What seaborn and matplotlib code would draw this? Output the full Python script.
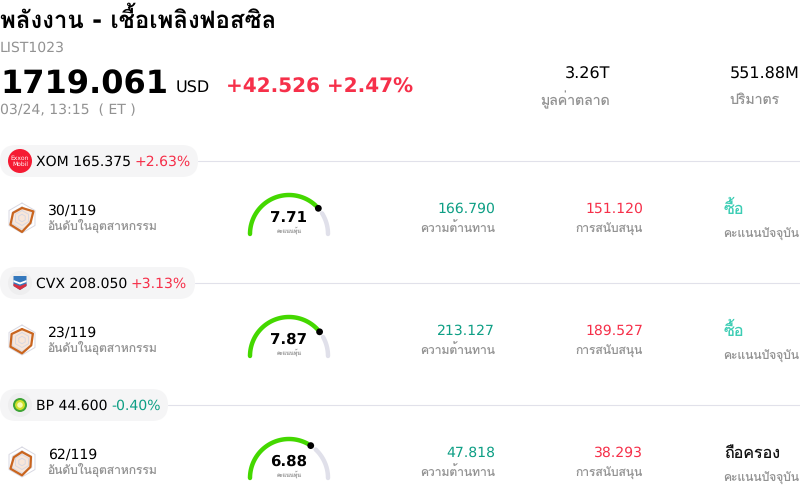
import numpy as np
import matplotlib
matplotlib.use("Agg")
import matplotlib.pyplot as plt
from matplotlib.patches import Circle, FancyBboxPatch, Polygon
import seaborn as sns

# Data
title = "พลังงาน - เชื้อเพลิงฟอสซิล"
list_code = "LIST1023"
index_price = "1719.061"
index_change = "+42.526 +2.47%"
index_time = "03/24, 13:15  ( ET )"
market_cap = "3.26T"
volume = "551.88M"

tickers = ["XOM", "CVX", "BP"]
prices = ["165.375", "208.050", "44.600"]
changes = ["+2.63%", "+3.13%", "-0.40%"]
ranks = ["30/119", "23/119", "62/119"]
scores = [7.71, 7.87, 6.88]
resistance = ["166.790", "213.127", "47.818"]
support = ["151.120", "189.527", "38.293"]
ratings = ["ซื้อ", "ซื้อ", "ถือครอง"]

# radar values, clockwise from the top
radar_xom = [0.67, 0.88, 0.65, 0.93, 0.89, 0.69]
radar_cvx = [0.73, 0.84, 0.71, 0.89, 0.89, 0.80]
radar_bp = [0.67, 0.69, 0.65, 0.89, 0.89, 0.63]
radars = [radar_xom, radar_cvx, radar_bp]

RED = "#f6304a"
GREEN = "#0e9f85"
GREY = "#929292"
TEAL = "#3ccdb4"
LINE = "#e1e1ea"

sns.set_theme(style="white")
plt.rcParams["font.family"] = ["DejaVu Sans", "Loma"]
plt.rcParams["text.hinting"] = "no_hinting"
plt.rcParams["text.hinting_factor"] = 1


def px(size):
    return size * 0.72


fig = plt.figure(figsize=(8, 4.99), dpi=100)
ax = fig.add_axes([0, 0, 1, 1])
ax.set_xlim(0, 800)
ax.set_ylim(499, 0)
ax.axis("off")


def txt(x, y, s, size, color="black", **kw):
    return ax.text(x, y, s, fontsize=px(size), color=color, va="center", **kw)


def draw_radar(cx, cy, values):
    ang = np.deg2rad(np.arange(7) * 60)
    v = np.array(values + values[:1])
    xs = cx + 15 * v * np.sin(ang)
    ys = cy - 15 * v * np.cos(ang)
    ax.fill(xs, ys, color="#e8a878", alpha=0.28, lw=0)
    for r in [1.0, 0.75, 0.5, 0.25]:
        sns.lineplot(x=cx + 15 * r * np.sin(ang), y=cy - 15 * r * np.cos(ang), sort=False,
                     estimator=None, color="#d8d8e2", lw=0.7, ax=ax)
    sns.lineplot(x=xs, y=ys, sort=False, estimator=None, color="#c9651f", lw=1.6, ax=ax)


def draw_gauge(cx, cy, score):
    end = np.pi * (1 - score / 10)
    t1 = np.linspace(np.pi, end + 0.09, 60)
    t2 = np.linspace(end - 0.16, 0, 30)
    sns.lineplot(x=cx + 39 * np.cos(t2), y=cy - 39 * np.sin(t2), sort=False, estimator=None,
                 color="#e0e0ea", lw=3.2, solid_capstyle="round", ax=ax)
    sns.lineplot(x=cx + 39 * np.cos(t1), y=cy - 39 * np.sin(t1), sort=False, estimator=None,
                 color="#44d800", lw=3.2, solid_capstyle="round", ax=ax)
    ax.add_patch(Circle((cx + 39 * np.cos(end), cy - 39 * np.sin(end)), 3.4, color="black", lw=0, zorder=5))
    txt(cx, cy - 16, f"{score:.2f}", 14.6, weight="bold", ha="center")
    txt(cx, cy - 4, "คะแนนหุ้น", 5.5, "#a8a8a8", ha="center")


def draw_logo(i, cy):
    if i == 0:
        ax.add_patch(Circle((20, cy), 12, color="#f51b33", lw=0, zorder=3))
        ax.text(20, cy - 3, "Exxon", fontsize=4.2, color="white", ha="center", va="center", zorder=4)
        ax.text(20, cy + 3.5, "Mobil", fontsize=4.2, color="white", ha="center", va="center", zorder=4)
    elif i == 1:
        ax.add_patch(Circle((20, cy), 12, color="#eeeeef", lw=0, zorder=3))
        ax.add_patch(Polygon([(13.5, cy - 7), (26.5, cy - 7), (26.5, cy + 3), (20, cy + 7), (13.5, cy + 3)],
                             color="#3478bd", lw=0, zorder=4))
        ax.add_patch(Polygon([(13.5, cy - 3), (20, cy - 0.5), (26.5, cy - 3), (26.5, cy - 1), (20, cy + 1.5), (13.5, cy - 1)],
                             color="white", lw=0, zorder=5))
        ax.add_patch(Polygon([(13.5, cy + 0.5), (20, cy + 3), (26.5, cy + 0.5), (26.5, cy + 3), (20, cy + 7), (13.5, cy + 3)],
                             color="#d8303f", lw=0, zorder=5))
    else:
        ax.add_patch(Circle((20, cy), 12, color="#eeeeef", lw=0, zorder=3))
        ax.add_patch(Circle((20, cy), 7, color="#3fa535", lw=0, zorder=4))
        ax.add_patch(Circle((20, cy), 5, color="#cfe02a", lw=0, zorder=5))
        ax.add_patch(Circle((20, cy), 2.8, color="#fbfbb0", lw=0, zorder=6))


# Header
txt(0, 20, title, 24, weight="bold")
txt(0, 48, list_code, 14, GREY)
txt(0, 84.5, index_price, 32, weight="bold")
txt(176, 88, "USD", 16)
txt(226, 87, index_change, 20, RED, weight="bold")
txt(0, 110, index_time, 14, GREY)
txt(610, 74, market_cap, 16, ha="right")
txt(610, 100, "มูลค่าตลาด", 14, GREY, ha="right")
txt(730, 74, volume, 16)
txt(729.5, 100, "ปริมาตร", 14, GREY)

# Rows
pill_w = [198, 195, 168]
renderer = fig.canvas.get_renderer()
for i, top in enumerate([145, 267, 389]):
    cy = top + 16
    sns.lineplot(x=[pill_w[i], 800], y=[cy, cy], color=LINE, lw=0.8, ax=ax)
    ax.add_patch(FancyBboxPatch((0, top), pill_w[i], 32, boxstyle="round,pad=0,rounding_size=16",
                                fc="#f5f5f6", ec="none", zorder=2))
    draw_logo(i, cy)
    label = txt(36, cy + 1, f"{tickers[i]} {prices[i]}", 14, zorder=5)
    bb = label.get_window_extent(renderer)
    txt(bb.x1 + 3.7, cy + 1, changes[i], 14, RED if changes[i][0] == "+" else GREEN, zorder=5)

    draw_radar(22, top + 73, radars[i])
    txt(48, top + 66, ranks[i], 14)
    txt(47.5, top + 81, "อันดับในอุตสาหกรรม", 12, GREY)
    draw_gauge(289, top + 89, scores[i])
    txt(495, top + 64, resistance[i], 14, GREEN, ha="right")
    txt(495, top + 84, "ความต้านทาน", 12, GREY, ha="right")
    txt(643, top + 64, support[i], 14, RED, ha="right")
    txt(643, top + 84, "การสนับสนุน", 12, GREY, ha="right")
    txt(724, top + 64, ratings[i], 16, TEAL if ratings[i] == "ซื้อ" else "#111111")
    txt(723.5, top + 89, "คะแนนปัจจุบัน", 12, GREY)

fig.savefig("out.png", dpi=100)
